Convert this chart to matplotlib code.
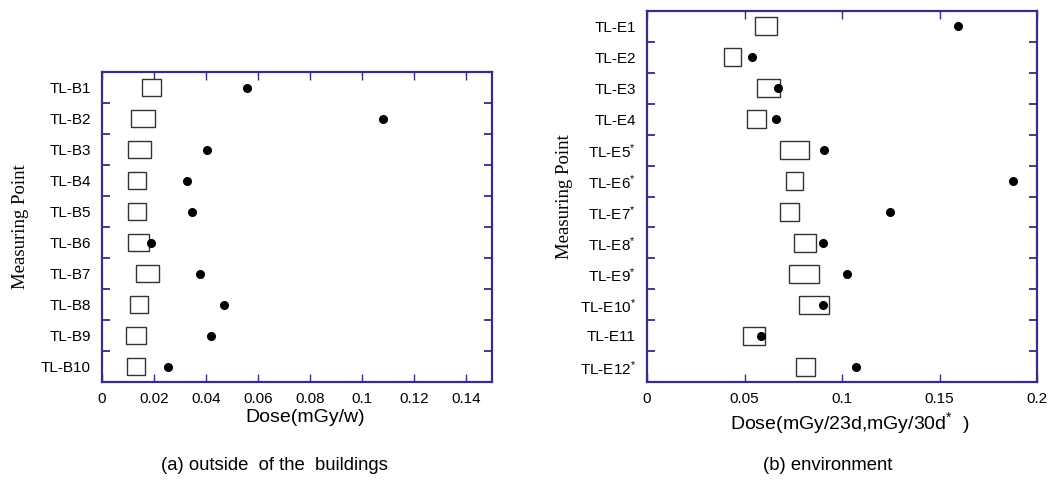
import numpy as np
import matplotlib
matplotlib.use("Agg")
import matplotlib.pyplot as plt
from matplotlib.ticker import FixedLocator, NullFormatter

plt.rcParams['font.family'] = ['Liberation Sans', 'DejaVu Sans']
plt.rcParams['mathtext.fontset'] = 'custom'
plt.rcParams['mathtext.rm'] = 'Liberation Sans'
plt.rcParams['mathtext.it'] = 'Liberation Sans'

FRAME = '#382c84'

# (a) outside of the buildings
b_labels = ['TL-B1', 'TL-B2', 'TL-B3', 'TL-B4', 'TL-B5',
            'TL-B6', 'TL-B7', 'TL-B8', 'TL-B9', 'TL-B10']
b_low = [0.0153, 0.0113, 0.0100, 0.0101, 0.0099, 0.0101, 0.0130, 0.0108, 0.0091, 0.0096]
b_high = [0.0226, 0.0205, 0.0187, 0.0169, 0.0168, 0.0181, 0.0218, 0.0178, 0.0169, 0.0164]
b_dot = [0.0556, 0.1080, 0.0404, 0.0328, 0.0345, 0.0187, 0.0376, 0.0471, 0.0421, 0.0253]
b_xticks = [0, 0.02, 0.04, 0.06, 0.08, 0.1, 0.12, 0.14]

# (b) environment
e_labels = ['TL-E1', 'TL-E2', 'TL-E3', 'TL-E4', 'TL-E5$^{*}$', 'TL-E6$^{*}$',
            'TL-E7$^{*}$', 'TL-E8$^{*}$', 'TL-E9$^{*}$', 'TL-E10$^{*}$',
            'TL-E11', 'TL-E12$^{*}$']
e_low = [0.0552, 0.0395, 0.0564, 0.0514, 0.0680, 0.0711, 0.0680, 0.0752, 0.0728, 0.0777, 0.0490, 0.0762]
e_high = [0.0665, 0.0482, 0.0681, 0.0608, 0.0830, 0.0801, 0.0777, 0.0866, 0.0880, 0.0931, 0.0603, 0.0862]
e_dot = [0.1595, 0.0540, 0.0670, 0.0663, 0.0905, 0.1877, 0.1244, 0.0900, 0.1025, 0.0902, 0.0583, 0.1074]
e_xticks = [0, 0.05, 0.1, 0.15, 0.2]


def draw_panel(ax, labels, low, high, dots, xticks, xmax, xlabel, ylab_x, xlab_y):
    n = len(labels)
    y = np.arange(n)
    low = np.array(low)
    high = np.array(high)
    ax.barh(y, high - low, left=low, height=0.57, facecolor='white',
            edgecolor='#333333', linewidth=1.0, zorder=2)
    ax.plot(dots, y, 'o', color='black', markersize=5.5, zorder=3)
    ax.set_xlim(0, xmax)
    ax.set_ylim(n - 0.5, -0.5)
    ax.set_yticks(y)
    ax.set_yticklabels(labels, fontsize=11)
    ax.yaxis.set_minor_locator(FixedLocator(np.arange(n - 1) + 0.5))
    ax.yaxis.set_minor_formatter(NullFormatter())
    ax.tick_params(axis='y', which='major', length=0, pad=8)
    ax.tick_params(axis='y', which='minor', direction='in', length=6,
                   width=1.3, color=FRAME, left=True, right=True)
    ax.set_xticks(xticks)
    ax.set_xticklabels([f'{t:g}' for t in xticks], fontsize=11)
    ax.tick_params(axis='x', direction='in', length=6, width=1.0,
                   color=FRAME, top=True, bottom=True, pad=7)
    for sp in ax.spines.values():
        sp.set_color(FRAME)
        sp.set_linewidth(1.6)
    ax.set_xlabel(xlabel, fontsize=14)
    ax.xaxis.set_label_coords(0.52, xlab_y)
    ax.set_ylabel('Measuring Point', fontsize=13.5, family='Liberation Serif')
    ax.yaxis.set_label_coords(ylab_x, 0.5)


fig = plt.figure(figsize=(10.55, 4.84), dpi=100)
ax1 = fig.add_axes([0.0967, 0.2107, 0.3697, 0.6405])
ax2 = fig.add_axes([0.6133, 0.2101, 0.3697, 0.7678])

draw_panel(ax1, b_labels, b_low, b_high, b_dot, b_xticks, 0.15, 'Dose(mGy/w)',
           -0.187, -0.088)
draw_panel(ax2, e_labels, e_low, e_high, e_dot, e_xticks, 0.2,
           'Dose(mGy/23d,mGy/30d$^{*}$  )', -0.19, -0.075)

fig.text(274 / 1055, 1 - 466 / 484, '(a) outside  of the  buildings',
         fontsize=13.3, ha='center', va='center')
fig.text(828 / 1055, 1 - 466 / 484, '(b) environment',
         fontsize=13.3, ha='center', va='center')

fig.savefig('out.png', dpi=100)
